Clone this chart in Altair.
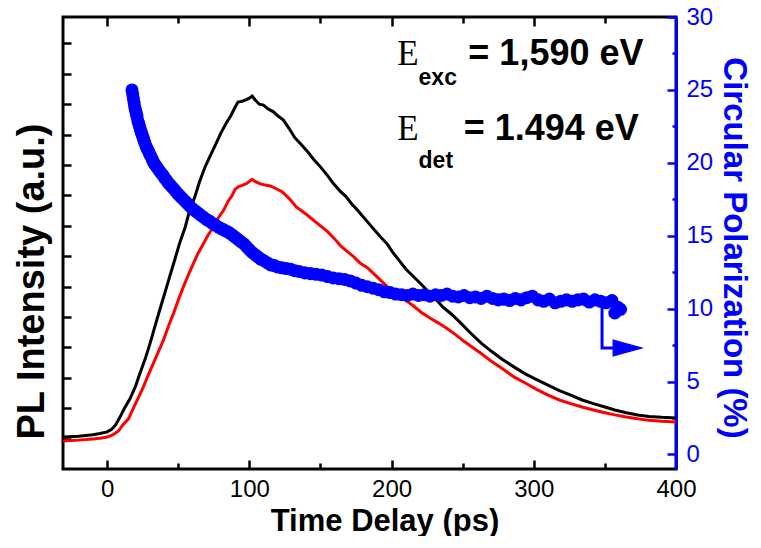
import altair as alt
import pandas as pd

# ---------------- data ----------------
t_black = [-31, -20, -10, -5, 0, 3, 6, 9, 12, 16, 20, 23, 27, 30, 34, 37, 41, 44, 48, 51,
           55, 58, 62, 65, 69, 72, 76, 80, 84, 87, 90, 92, 95, 98, 100, 102, 104, 107, 110,
           113, 117, 120, 124, 128, 132, 136, 141, 145, 150, 155, 159, 164, 168, 172, 176,
           180, 184, 188, 192, 197, 201, 205, 210, 215, 220, 225, 230, 236, 242, 248, 255,
           263, 270, 278, 286, 294, 302, 310, 318, 326, 334, 342, 350, 357, 365, 373, 381,
           390, 400]
i_black = [1.05, 1.08, 1.13, 1.17, 1.22, 1.30, 1.45, 1.70, 1.98, 2.30, 2.72, 3.13, 3.65, 4.10,
           4.75, 5.23, 5.85, 6.33, 6.95, 7.43, 7.97, 8.50, 9.00, 9.45, 9.95, 10.25, 10.65,
           11.05, 11.40, 11.62, 11.90, 12.07, 12.10, 12.15, 12.20, 12.27, 12.15, 12.00, 11.97,
           11.85, 11.75, 11.62, 11.48, 11.20, 10.90, 10.70, 10.44, 10.20, 9.94, 9.65, 9.40,
           9.13, 8.96, 8.72, 8.52, 8.30, 8.08, 7.86, 7.65, 7.40, 7.12, 6.88, 6.58, 6.35, 6.12,
           5.88, 5.65, 5.33, 5.10, 4.83, 4.50, 4.14, 3.88, 3.60, 3.36, 3.13, 2.94, 2.76, 2.58,
           2.43, 2.27, 2.15, 2.04, 1.94, 1.85, 1.78, 1.73, 1.70, 1.68]

t_red = [-31, -20, -10, -5, 0, 4, 8, 11, 15, 18.5, 22, 25.6, 29, 32.6, 36, 39.6, 43, 46.7, 50,
         53.7, 57, 60.8, 64, 67.8, 71, 75, 78, 82, 85, 88, 90, 92.5, 95, 98.4, 101.9, 104,
         107.7, 111, 114.8, 119, 123, 127, 130, 133, 136, 140, 145, 150, 155, 160, 164, 169,
         173.5, 178, 183, 188, 192, 197, 203, 209, 215, 221, 227, 233, 239, 245, 251, 257,
         263, 270, 278, 286, 294, 302, 310, 318, 326, 334, 342, 350, 357, 365, 373, 381, 390,
         400]
i_red = [0.92, 0.95, 0.99, 1.01, 1.05, 1.12, 1.25, 1.45, 1.65, 2.00, 2.35, 2.71, 3.10, 3.48,
         3.85, 4.24, 4.68, 5.12, 5.55, 6.00, 6.37, 6.77, 7.10, 7.42, 7.70, 7.97, 8.25, 8.52,
         8.80, 9.01, 9.20, 9.29, 9.33, 9.40, 9.53, 9.46, 9.38, 9.34, 9.31, 9.22, 9.12, 8.95,
         8.79, 8.62, 8.52, 8.38, 8.19, 8.00, 7.81, 7.57, 7.35, 7.15, 6.98, 6.77, 6.62, 6.40,
         6.22, 6.00, 5.80, 5.58, 5.38, 5.15, 4.97, 4.80, 4.62, 4.42, 4.20, 4.00, 3.80, 3.55,
         3.30, 3.03, 2.83, 2.62, 2.43, 2.27, 2.15, 2.04, 1.94, 1.85, 1.78, 1.71, 1.65, 1.60,
         1.57, 1.55]

# circular polarization points: (time in ps, polarization in %)
pol_points = [
    (17.5, 25.0), (18.0, 24.7), (18.5, 24.4), (19.0, 24.1), (19.5, 23.8), (20.0, 23.6),
    (20.5, 23.4), (21.0, 23.2), (21.6, 22.9), (22.2, 22.7), (22.8, 22.5), (23.4, 22.3),
    (24.0, 22.1), (24.7, 21.9), (25.4, 21.7), (26.1, 21.5), (26.8, 21.3), (27.5, 21.1),
    (28.3, 20.95), (29.1, 20.8), (29.9, 20.6), (30.8, 20.45), (31.7, 20.25), (32.6, 20.05),
    (33.6, 19.9), (34.6, 19.75), (35.7, 19.6), (36.8, 19.45), (38.0, 19.3), (39.2, 19.15),
    (40.5, 18.95), (41.8, 18.8), (43.2, 18.6), (44.6, 18.45), (46.0, 18.3), (47.5, 18.15),
    (49.0, 17.95), (50.5, 17.8), (52.0, 17.65), (53.5, 17.5), (55.0, 17.35), (56.5, 17.2),
    (58.0, 17.05), (60.0, 16.85), (62.0, 16.7), (64.0, 16.55), (66.0, 16.4), (68.0, 16.25),
    (70.0, 16.1), (72.0, 16.0), (74.0, 15.85), (76.0, 15.75), (78.0, 15.6), (80.0, 15.5),
    (82.0, 15.4), (84.0, 15.3), (86.0, 15.2), (88.0, 15.05), (90.0, 14.9), (92.0, 14.75),
    (94.0, 14.6), (96.0, 14.45), (98.0, 14.25), (100.0, 14.05), (102.0, 13.85), (104.0, 13.7),
    (106.0, 13.55), (108.0, 13.4), (110.0, 13.3), (112.5, 13.15), (115.0, 13.0),
    (117.5, 12.95), (120.0, 12.85), (123.0, 12.8), (126.0, 12.75), (129.0, 12.7),
    (132.0, 12.6), (135.0, 12.55), (139.0, 12.45), (143.0, 12.4), (147.0, 12.35),
    (151.0, 12.3), (155.0, 12.2), (159.0, 12.1), (163.0, 12.05), (167.0, 12.0),
    (171.0, 11.9), (175.0, 11.75), (179.0, 11.6), (183.0, 11.5), (187.0, 11.4),
    (191.0, 11.3), (195.0, 11.15), (199.0, 11.1), (203.0, 11.0), (207.0, 10.95),
    (211.0, 10.9), (215.0, 11.0), (219.0, 10.9), (223.0, 10.95), (227.0, 10.85),
    (231.0, 10.95), (235.0, 10.9), (239.0, 11.0), (243.0, 10.85), (247.0, 10.8),
    (251.0, 10.9), (255.0, 10.75), (259.0, 10.8), (263.0, 10.7), (267.0, 10.85),
    (271.0, 10.7), (275.0, 10.6), (279.0, 10.65), (283.0, 10.55), (287.0, 10.7),
    (291.0, 10.6), (295.0, 10.75), (299.0, 10.85), (303.0, 10.6), (307.0, 10.5),
    (311.0, 10.65), (315.0, 10.4), (319.0, 10.5), (323.0, 10.6), (327.0, 10.5),
    (331.0, 10.6), (335.0, 10.65), (339.0, 10.45), (343.0, 10.6), (347.0, 10.5),
    (351.0, 10.4), (355.0, 10.55), (357.0, 9.7), (359.0, 10.1), (361.0, 9.95),
]

# arrow pointing to the right axis (polarization units)
arrow_t = [348, 348, 357]
arrow_v = [10.2, 7.3, 7.3]
head_t = [366.5]
head_v = [7.3]

# annotation anchors (time, intensity units)
big_E_t = [204, 204]
big_E_i = [13.29, 10.82]
big_E_txt = ["E", "E"]
sub_t = [219, 219]
sub_i = [12.63, 9.90]
sub_txt = ["exc", "det"]
val_t = [254, 250.7]
val_i = [13.29, 10.82]
val_txt = ["= 1,590 eV", "= 1.494 eV"]

x_ticks = [0, 100, 200, 300, 400]
x_minor = [50, 150, 250, 350]
left_ticks = list(range(1, 15))
right_ticks = [0, 5, 10, 15, 20, 25, 30]
right_minor = [2.5, 7.5, 12.5, 17.5, 22.5, 27.5]

# ---------------- chart ----------------
BLUE = "#0000FF"
FONT = "Liberation Sans"
xs = alt.Scale(domain=[-31, 400], nice=False, zero=False)
yl = alt.Scale(domain=[0, 14.87], nice=False, zero=False)
yr = alt.Scale(domain=[-1, 30], nice=False, zero=False)


def tick_axis(orient, values, size, color="black"):
    return alt.Axis(orient=orient, values=values, tickSize=size, offset=-size,
                    labels=False, domain=False, title=None, grid=False,
                    ticks=True, tickColor=color, tickWidth=2.5)


black_df = pd.DataFrame({"t": t_black, "I": i_black})
red_df = pd.DataFrame({"t": t_red, "I": i_red})
pol_df = pd.DataFrame(pol_points, columns=["t", "v"])
arrow_df = pd.DataFrame({"t": arrow_t, "v": arrow_v, "o": [0, 1, 2]})
head_df = pd.DataFrame({"t": head_t, "v": head_v})
E_df = pd.DataFrame({"t": big_E_t, "I": big_E_i, "txt": big_E_txt})
sub_df = pd.DataFrame({"t": sub_t, "I": sub_i, "txt": sub_txt})
val_df = pd.DataFrame({"t": val_t, "I": val_i, "txt": val_txt})

black = alt.Chart(black_df).mark_line(color="black", strokeWidth=3, clip=True).encode(
    x=alt.X("t:Q", scale=xs, axis=alt.Axis(
        orient="bottom", values=x_ticks, ticks=False, tickSize=0, domain=False,
        labelFontSize=24, labelPadding=8, labelFlush=False, labelOverlap=False,
        labelColor="black", format="d",
        title="Time Delay (ps)", titleFontSize=31, titleFontWeight="bold",
        titleColor="black", titleX=321.5, titleY=61, titleBaseline="alphabetic")),
    y=alt.Y("I:Q", scale=yl, axis=alt.Axis(
        orient="left", labels=False, ticks=False, domain=False,
        title="PL Intensity (a.u.)", titleFontSize=38, titleFontWeight="bold",
        titleColor="black", titleX=-20, titleY=264, titleBaseline="alphabetic")),
)

red = alt.Chart(red_df).mark_line(color="#FF0000", strokeWidth=3, clip=True).encode(
    x=alt.X("t:Q", scale=xs, axis=tick_axis("bottom", x_ticks, 9)),
    y=alt.Y("I:Q", scale=yl, axis=tick_axis("left", left_ticks, 8)),
)

pol = alt.Chart(pol_df).mark_circle(color=BLUE, size=170, opacity=1).encode(
    x=alt.X("t:Q", scale=xs, axis=tick_axis("bottom", x_minor, 6)),
    y=alt.Y("v:Q", scale=yr, axis=alt.Axis(
        orient="right", values=right_ticks, ticks=False, tickSize=0, domain=True,
        domainColor=BLUE, domainWidth=3, labelColor=BLUE, labelFontSize=24,
        labelPadding=10, labelFlush=False, labelOverlap=False, format="d",
        title="Circular Polarization (%)", titleFontSize=33, titleFontWeight="bold",
        titleColor=BLUE, titleX=47, titleY=230.5, titleBaseline="alphabetic")),
)

arrow = alt.Chart(arrow_df).mark_line(color=BLUE, strokeWidth=3).encode(
    x=alt.X("t:Q", scale=xs, axis=tick_axis("top", x_ticks, 9)),
    y=alt.Y("v:Q", scale=yr, axis=tick_axis("right", right_ticks, 9, BLUE)),
    order="o:Q",
)

head = alt.Chart(head_df).mark_point(
    shape="M-1,-0.56L1,0L-1,0.56Z", size=1000, filled=True, color=BLUE, opacity=1
).encode(
    x=alt.X("t:Q", scale=xs, axis=tick_axis("top", x_minor, 6)),
    y=alt.Y("v:Q", scale=yr, axis=tick_axis("right", right_minor, 4, BLUE)),
)

E_txt = alt.Chart(E_df).mark_text(
    align="left", baseline="alphabetic", font="Liberation Serif", fontSize=35, color="black"
).encode(
    x=alt.X("t:Q", scale=xs, axis=None),
    y=alt.Y("I:Q", scale=yl, axis=None),
    text="txt:N",
)
sub_txt_l = alt.Chart(sub_df).mark_text(
    align="left", baseline="alphabetic", font=FONT, fontSize=23, fontWeight="bold", color="black"
).encode(
    x=alt.X("t:Q", scale=xs, axis=None),
    y=alt.Y("I:Q", scale=yl, axis=None),
    text="txt:N",
)
val_txt_l = alt.Chart(val_df).mark_text(
    align="left", baseline="alphabetic", font=FONT, fontSize=36, fontWeight="bold", color="black"
).encode(
    x=alt.X("t:Q", scale=xs, axis=None),
    y=alt.Y("I:Q", scale=yl, axis=None),
    text="txt:N",
)

chart = alt.layer(
    black, red, arrow, pol, head, E_txt, sub_txt_l, val_txt_l
).resolve_scale(
    y="independent"
).resolve_axis(
    x="independent", y="independent"
).properties(
    width=613, height=452,
    padding={"left": 55, "top": 9, "right": 77, "bottom": 67},
    autosize=alt.AutoSizeParams(type="none"),
).configure_view(
    stroke="black", strokeWidth=3
).configure_axis(
    grid=False, labelFont=FONT, titleFont=FONT, tickWidth=2.5, domainWidth=3
)

chart.save("out.html", embed_options={"renderer": "svg", "actions": False})
